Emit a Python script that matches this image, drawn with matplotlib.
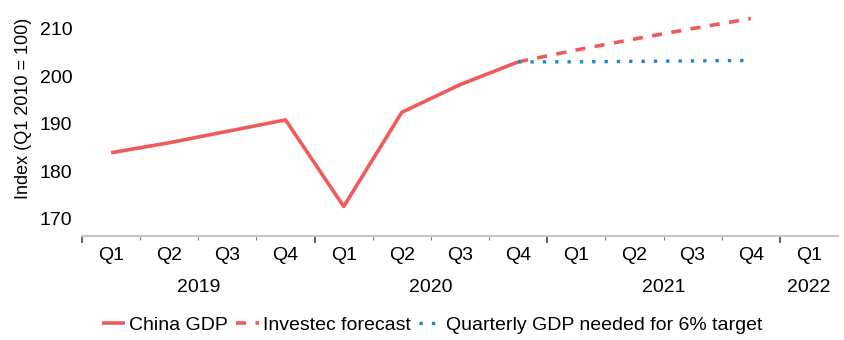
import matplotlib.pyplot as plt
import matplotlib.transforms as mtransforms
import numpy as np

plt.rcParams['font.family'] = ['Liberation Sans', 'DejaVu Sans']

quarters = ['Q1', 'Q2', 'Q3', 'Q4', 'Q1', 'Q2', 'Q3', 'Q4',
            'Q1', 'Q2', 'Q3', 'Q4', 'Q1']
years = ['2019', '2020', '2021', '2022']
year_spans = [(0, 3), (4, 7), (8, 11), (12, 12)]

gdp = [183.9, 186.0, 188.4, 190.8, 172.6, 192.4, 198.2, 203.0]
forecast = [203.0, 205.5, 207.8, 210.0, 212.1]
target = [203.0, 203.0, 203.1, 203.2, 203.3]

red = '#F05A5B'
blue = '#1C87C9'
fs = 14

fig = plt.figure(figsize=(8.44, 3.4), dpi=100)
ax = fig.add_axes([82 / 844, 104 / 340, 756 / 844, 236 / 340])

x_gdp = np.arange(len(gdp))
x_fc = np.arange(len(gdp) - 1, len(gdp) - 1 + len(forecast))

ax.plot(x_gdp, gdp, color=red, lw=2.6, solid_capstyle='butt', label='China GDP')
ax.plot(x_fc, forecast, color=red, lw=2.6, dashes=(2.8, 2.6),
        label='Investec forecast')
ax.plot(x_fc, target, color=blue, lw=2.4, dashes=(1.0, 2.7),
        label='Quarterly GDP needed for 6% target')

ax.set_xlim(-0.5, 12.5)
ax.set_ylim(166.4, 216)
ax.set_yticks([170, 180, 190, 200, 210])

for side in ['left', 'right', 'top']:
    ax.spines[side].set_visible(False)
ax.spines['bottom'].set_color('#c8c8c8')
ax.spines['bottom'].set_linewidth(1.6)

ax.tick_params(axis='y', length=0, labelsize=fs, pad=7)
ax.set_xticks(range(len(quarters)))
ax.set_xticklabels(quarters)
ax.tick_params(axis='x', which='major', length=0, labelsize=fs, pad=8)
# small ticks between quarters, heavier ones between years
ax.set_xticks([i + 0.5 for i in range(-1, 12)], minor=True)
ax.tick_params(axis='x', which='minor', length=3, width=0.8, color='#808080')
for b in [-0.5, 3.5, 7.5, 11.5]:
    ax.plot([b, b], [0, -0.025], transform=ax.get_xaxis_transform(),
            color='#606060', lw=1.4, clip_on=False)

trans = mtransforms.blended_transform_factory(ax.transData, fig.transFigure)
for yr, (a, b) in zip(years, year_spans):
    ax.text((a + b) / 2, 1 - 287 / 340, yr, transform=trans,
            ha='center', va='center', fontsize=fs)

ax.set_ylabel('Index (Q1 2010 = 100)', fontsize=13)
ax.yaxis.set_label_coords(-50 / 756, 0.54)

fig.legend(loc='center', bbox_to_anchor=(432 / 844, 1 - 325 / 340), ncol=3,
           frameon=False, fontsize=fs, handlelength=1.2, handletextpad=0.2,
           columnspacing=0.4, borderaxespad=0)

fig.savefig('out.png', dpi=100)
